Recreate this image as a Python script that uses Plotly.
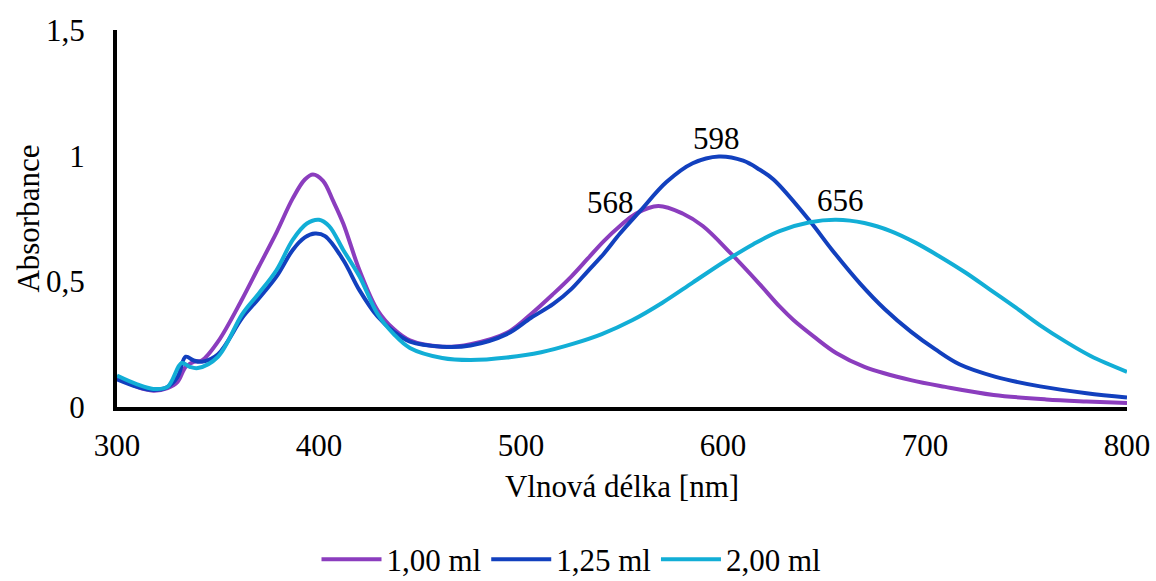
import plotly.graph_objects as go

# Absorption spectra for three reagent volumes
wl_100 = [300, 305, 310, 318, 325, 330, 334, 338, 342, 350, 362, 370, 379, 387, 393, 397,
          402, 407, 412, 420, 429, 437, 445, 461, 475, 493, 505, 516, 525, 533, 541, 549, 557, 568,
          580, 590, 604, 618, 628, 635, 645, 656, 670, 693, 710, 734, 760, 780, 800]
abs_100 = [0.12, 0.10, 0.08, 0.065, 0.075, 0.10, 0.16, 0.18, 0.185, 0.26, 0.43, 0.555, 0.695, 0.83, 0.905, 0.925,
           0.90, 0.82, 0.73, 0.545, 0.385, 0.31, 0.265, 0.24, 0.25, 0.295, 0.37, 0.45, 0.52, 0.59, 0.66, 0.72, 0.77, 0.80,
           0.77, 0.72, 0.61, 0.49, 0.40, 0.345, 0.28, 0.215, 0.16, 0.107, 0.08, 0.048, 0.03, 0.022, 0.016]

wl_125 = [300, 310, 318, 325, 330, 334, 338, 342, 350, 362, 370, 379, 387, 393, 398, 403,
          412, 420, 429, 437, 445, 461, 475, 493, 505, 516, 525, 533, 541, 549, 559, 572, 585, 598, 610,
          618, 625, 643, 654, 668, 680, 693, 705, 717, 735, 757, 780, 800]
abs_125 = [0.11, 0.08, 0.068, 0.08, 0.12, 0.20, 0.185, 0.18, 0.21, 0.355, 0.43, 0.52, 0.625, 0.675, 0.69, 0.68,
           0.585, 0.465, 0.36, 0.30, 0.26, 0.24, 0.245, 0.29, 0.355, 0.41, 0.47, 0.54, 0.61, 0.69, 0.78, 0.895, 0.97, 0.997, 0.98,
           0.945, 0.905, 0.74, 0.625, 0.49, 0.39, 0.30, 0.23, 0.17, 0.12, 0.082, 0.055, 0.038]

wl_200 = [300, 310, 318, 325, 332, 336, 340, 350, 362, 370, 379, 387, 394, 400, 405, 412,
          420, 429, 437, 445, 461, 475, 493, 510, 526, 540, 555, 570, 585, 600, 615, 628, 643,
          656, 670, 683, 695, 707, 720, 732, 745, 757, 770, 782, 800]
abs_200 = [0.125, 0.09, 0.072, 0.08, 0.175, 0.16, 0.155, 0.20, 0.37, 0.45, 0.545, 0.665, 0.73, 0.745, 0.72, 0.625,
           0.52, 0.37, 0.29, 0.235, 0.195, 0.187, 0.197, 0.218, 0.252, 0.29, 0.345, 0.415, 0.495, 0.575, 0.648, 0.70, 0.735,
           0.745, 0.732, 0.70, 0.655, 0.60, 0.535, 0.468, 0.395, 0.325, 0.258, 0.203, 0.14]

series_names = ["1,00 ml", "1,25 ml", "2,00 ml"]
series_colors = ["#8B3DBE", "#1240BE", "#12AED6"]
peak_wavelengths = [568, 598, 656]

x_ticks = [300, 400, 500, 600, 700, 800]
y_ticks = [0, 0.5, 1, 1.5]
y_ticktext = ["0", "0,5", "1", "1,5"]

FONT = "Liberation Serif, Times New Roman, serif"

fig = go.Figure()
series = [(wl_100, abs_100), (wl_125, abs_125), (wl_200, abs_200)]
for (wl, ab), name, color in zip(series, series_names, series_colors):
    fig.add_trace(go.Scatter(x=wl, y=ab, mode="lines", name=name,
                             line=dict(color=color, width=4, shape="spline", smoothing=1.0)))

# long-wavelength band maxima, labelled above each curve
shifts = [(-48, 3), (-2, 18), (4, 19)]
for (wl, ab), peak, (dx, dy) in zip(series, peak_wavelengths, shifts):
    i = wl.index(peak)
    fig.add_annotation(x=wl[i], y=ab[i], text=str(peak), showarrow=False,
                       xshift=dx, yshift=dy, font=dict(size=31, color="black", family=FONT))

# vertical axis title
fig.add_annotation(xref="paper", yref="paper", x=-0.088, y=0.5, xanchor="center", yanchor="middle",
                   text="Absorbance", textangle=-90, showarrow=False,
                   font=dict(size=31, color="black", family=FONT))

fig.update_layout(
    width=1156, height=581,
    margin=dict(l=117, r=29, t=30, b=174, autoexpand=False),
    paper_bgcolor="white", plot_bgcolor="white",
    font=dict(family=FONT, size=31, color="black"),
    showlegend=True,
    legend=dict(orientation="h", x=0.45, xanchor="center", y=-0.405, yanchor="middle",
                font=dict(size=31), itemwidth=60, tracegroupgap=0),
)
fig.update_xaxes(range=[300, 800], tickvals=x_ticks, showgrid=False, zeroline=False,
                 showline=True, linecolor="black", linewidth=4, ticks="", ticklabelstandoff=8,
                 title=dict(text="Vlnová délka [nm]", standoff=14, font=dict(size=31)))
fig.update_yaxes(range=[0, 1.5], tickvals=y_ticks, ticktext=y_ticktext, showgrid=False,
                 zeroline=False, showline=True, linecolor="black", linewidth=4, ticks="",
                 ticklabelstandoff=22)

fig.write_html("out.html")
